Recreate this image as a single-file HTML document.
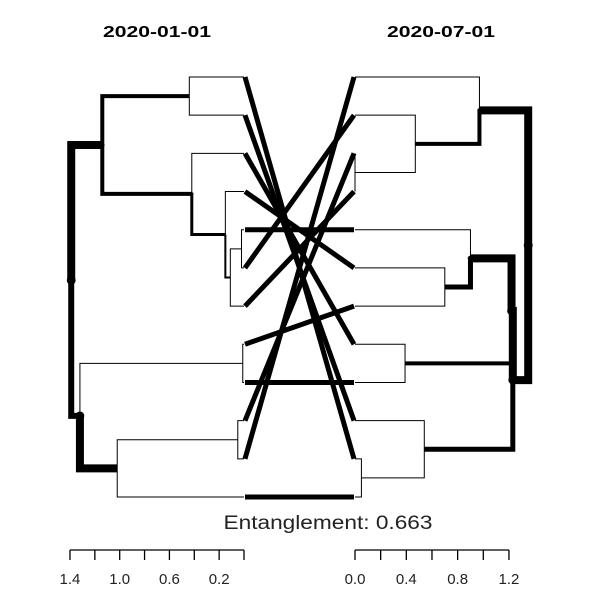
<!DOCTYPE html>
<html><head><meta charset="utf-8"><style>
body{margin:0;background:#fff;}
svg text{font-family:"Liberation Sans",sans-serif;}
</style></head><body>
<svg id="c" width="600" height="600" xmlns="http://www.w3.org/2000/svg">
<text x="157" y="37" font-size="16" font-weight="bold" text-anchor="middle" textLength="108" lengthAdjust="spacingAndGlyphs">2020-01-01</text>
<text x="441" y="37" font-size="16" font-weight="bold" text-anchor="middle" textLength="108" lengthAdjust="spacingAndGlyphs">2020-07-01</text>
<text x="328" y="529" font-size="19" fill="#222" text-anchor="middle" textLength="209" lengthAdjust="spacingAndGlyphs">Entanglement: 0.663</text>
</svg>
<script>
// leaf count and connections: left leaf i -> right leaf position
const nLeaves = 12;
const connections = [11,10,8,6,5,2,4,7,9,3,1,12];
// tree merges: [childA, childB, height, width]; negative = leaf index (1-based), positive = merge index (1-based)
const leftMerges = [
 [-1,-2,0.44,4],[-5,-6,0.02,1],[2,-7,0.11,2],[-4,3,0.15,3],[-3,4,0.42,4],[1,5,1.14,8],
 [-8,-9,0.01,1],[-10,-11,0.05,1],[8,-12,1.02,8],[7,9,1.32,6],[6,10,1.39,1]
];
const rightMerges = [
 [-3,-4,0.0,1],[-2,1,0.47,4],[-1,2,0.97,8],[-6,-7,0.70,5],[-5,4,0.90,8],[-8,-9,0.39,4],
 [5,6,1.22,8],[-11,-12,0.05,1],[-10,8,0.54,5],[7,9,1.23,8],[3,10,1.35,1]
];
const leftTicks = [1.4,1.2,1.0,0.8,0.6,0.4,0.2,0.0];
const leftTickLabels = ["1.4","1.0","0.6","0.2"];
const rightTicks = [0.0,0.2,0.4,0.6,0.8,1.0,1.2];
const rightTickLabels = ["0.0","0.4","0.8","1.2"];

const svg = document.getElementById('c');
const NS = 'http://www.w3.org/2000/svg';
const yLeaf = i => 77 + (i-1)*(497-77)/(nLeaves-1);
const xL = h => 244 - h*124.3;
const xR = h => 355 + h*128.3;
function el(t,a){const e=document.createElementNS(NS,t);for(const k in a)e.setAttribute(k,a[k]);svg.appendChild(e);return e;}

function drawTree(merges, xf, side){
  const pos = [];
  const getPos = c => c<0 ? {x:xf(0), y:yLeaf(-c), w:1} : pos[c-1];
  merges.forEach((m,i)=>{
    const a=getPos(m[0]), b=getPos(m[1]);
    const p={x:xf(m[2]), y:(a.y+b.y)/2, w:m[3]};
    pos.push(p);
    [a,b].forEach(ch=>{
      const path=el('path',{d:`M${p.x},${p.y} L${p.x},${ch.y} L${ch.x},${ch.y}`,fill:'none',stroke:'#000','stroke-width':ch.w,'stroke-linejoin':'miter','stroke-linecap':'butt'});
      
      
      if(ch.w>2){
        const d=el('circle',{cx:p.x,cy:p.y,r:ch.w*0.55,fill:'#000'});
        
        
      }
    });
  });
}
drawTree(leftMerges, xL, 'left');
drawTree(rightMerges, xR, 'right');

connections.forEach((r,i)=>{
  const l=el('line',{x1:245,y1:yLeaf(i+1),x2:354,y2:yLeaf(r),stroke:'#000','stroke-width':5});
  
  
});

function axis(ticks, labels, xf, side){
  const ln=el('line',{x1:xf(ticks[0]),y1:550,x2:xf(ticks[ticks.length-1]),y2:550,stroke:'#000','stroke-width':1.3});
  
  
  ticks.forEach(t=>{
    const tk=el('line',{x1:xf(t),y1:550,x2:xf(t),y2:560,stroke:'#000','stroke-width':1.3});
    
    
  });
  labels.forEach(s=>{
    const tx=el('text',{x:xf(parseFloat(s)),y:584,'font-size':15,'text-anchor':'middle',fill:'#222'});
    tx.textContent=s;
    
    
  });
}
axis(leftTicks, leftTickLabels, xL, 'left');
axis(rightTicks, rightTickLabels, xR, 'right');
</script>
</body></html>
